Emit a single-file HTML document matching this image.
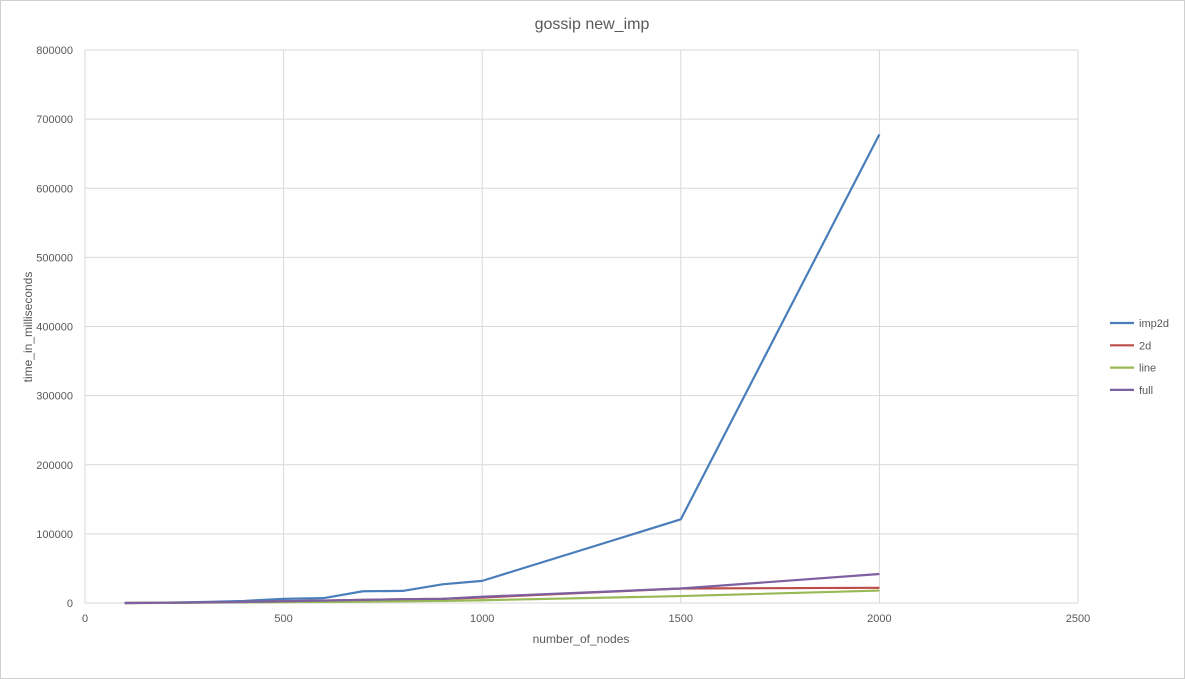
<!DOCTYPE html>
<html><head><meta charset="utf-8"><style>
body{margin:0;background:#fff;}
svg{display:block;font-family:"Liberation Sans",sans-serif;}
</style></head><body>
<svg id="c" width="1185" height="679">
<rect x="0.5" y="0.5" width="1184" height="678" fill="#fff" stroke="#d0d0d0"/>
<text x="592" y="29" text-anchor="middle" font-size="16" fill="#595959">gossip new_imp</text>
<g id="grid"></g><g id="series"></g>
<text x="581" y="643" text-anchor="middle" font-size="12" fill="#595959">number_of_nodes</text>
<text transform="translate(32,327) rotate(-90)" text-anchor="middle" font-size="12" fill="#595959">time_in_milliseconds</text>
<g id="legend"></g>
</svg>
<script>
const xs=[100,200,300,400,500,600,700,800,900,1000,1500,2000];
const imp2d=[0,500,1500,3000,6000,7000,17000,17500,27000,32000,121000,678000];
const d2=[0,300,800,1500,2500,3500,4500,5500,6000,8000,21000,22000];
const line=[0,200,500,800,1200,1600,2000,2500,3000,4000,10000,18000];
const full=[0,300,800,1500,2500,3500,4500,5500,6000,9000,21000,42000];
const xTicks=[0,500,1000,1500,2000,2500];
const yTicks=[0,100000,200000,300000,400000,500000,600000,700000,800000];
const names=["imp2d","2d","line","full"];
const colors=["#4a7ebb","#be4b48","#98b954","#7d60a0"];
const X=v=>85+v/2500*993, Y=v=>603-v/800000*553;
const ns="http://www.w3.org/2000/svg";
function mk(t,a,p){const e=document.createElementNS(ns,t);for(const k in a)e.setAttribute(k,a[k]);p.appendChild(e);return e;}
const g=document.getElementById('grid');
yTicks.forEach(t=>{
 const l=mk('line',{x1:85,x2:1078,y1:Y(t),y2:Y(t),stroke:'#d9d9d9'},g);
 
 
 const tx=mk('text',{x:73,y:Y(t)+4,'text-anchor':'end','font-size':11,fill:'#595959'},g);tx.textContent=t;
 
 
});
xTicks.forEach(t=>{
 const l=mk('line',{x1:X(t),x2:X(t),y1:50,y2:603,stroke:'#d9d9d9'},g);
 
 
 const tx=mk('text',{x:X(t),y:622,'text-anchor':'middle','font-size':11,fill:'#595959'},g);tx.textContent=t;
 
 
});
const s=document.getElementById('series');
[imp2d,d2,line,full].forEach((d,i)=>{
 const p=mk('polyline',{points:xs.map((x,j)=>X(x)+','+Y(d[j])).join(' '),fill:'none',stroke:colors[i],'stroke-width':2.2,'stroke-linejoin':'round'},s);
 
 
});
const lg=document.getElementById('legend');
names.forEach((n,i)=>{
 const y=323+i*22.3;
 const l=mk('line',{x1:1110,x2:1134,y1:y,y2:y,stroke:colors[i],'stroke-width':2.2},lg);
 
 
 const t=mk('text',{x:1139,y:y+4,'font-size':11,fill:'#595959'},lg);t.textContent=n;
 
 
});
</script>
</body></html>
